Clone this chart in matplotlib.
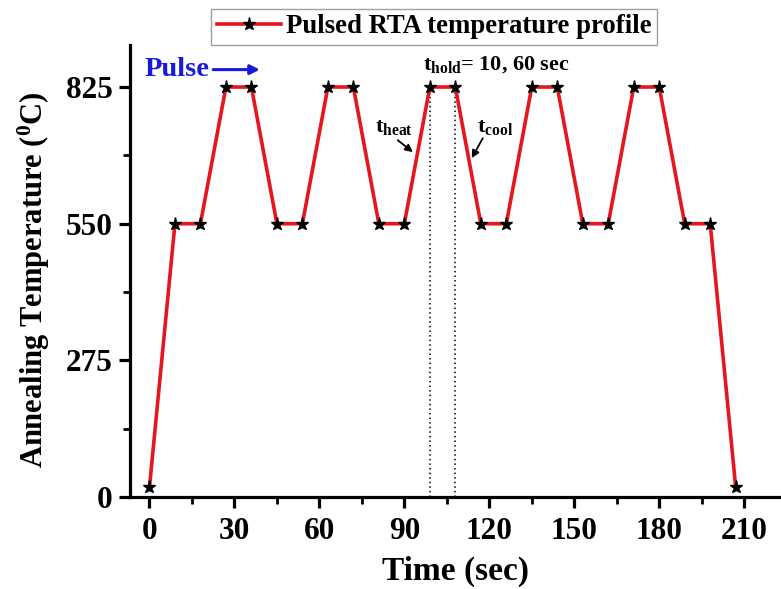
import matplotlib
matplotlib.use("Agg")
import matplotlib.pyplot as plt
from matplotlib.ticker import MultipleLocator

time_s = [0, 9, 18, 27, 36, 45, 54, 63, 72, 81, 90, 99, 108, 117, 126,
          135, 144, 153, 162, 171, 180, 189, 198, 207]
temp_c = [20, 550, 550, 825, 825, 550, 550, 825, 825, 550, 550, 825, 825, 550, 550,
          825, 825, 550, 550, 825, 825, 550, 550, 20]
x_ticks = [0, 30, 60, 90, 120, 150, 180, 210]
y_ticks = [0, 275, 550, 825]
hold_marks = [99, 108]

plt.rcParams['font.family'] = ['Liberation Serif', 'DejaVu Serif']
plt.rcParams['font.weight'] = 'bold'
plt.rcParams['mathtext.fontset'] = 'custom'
plt.rcParams['mathtext.rm'] = 'Liberation Serif:bold'
plt.rcParams['mathtext.it'] = 'Liberation Serif:bold'
plt.rcParams['mathtext.bf'] = 'Liberation Serif:bold'

fig = plt.figure(figsize=(7.81, 5.89), dpi=100)
ax = fig.add_axes([0.166, 0.156, 0.834, 0.768])

line, = ax.plot(time_s, temp_c, color='#e5161e', lw=2.6, marker='*', ms=9.5,
                mfc='black', mec='black', label='Pulsed RTA temperature profile', zorder=3)

for xv in hold_marks:
    ax.plot([xv, xv], [0, 825], color='black', ls=(0, (1, 2)), lw=1.1, zorder=2)

ax.set_xlim(-7, 223)
ax.set_ylim(0, 910)
ax.set_xticks(x_ticks)
ax.set_yticks(y_ticks)
ax.xaxis.set_minor_locator(MultipleLocator(15))
ax.yaxis.set_minor_locator(MultipleLocator(137.5))

for s in ['top', 'right']:
    ax.spines[s].set_visible(False)
for s in ['left', 'bottom']:
    ax.spines[s].set_linewidth(2.3)

ax.tick_params(axis='both', which='major', length=8, width=2.3, labelsize=22.5, direction='out')
ax.tick_params(axis='x', which='major', pad=6)
ax.tick_params(axis='y', which='major', pad=4)
ax.tick_params(axis='both', which='minor', length=5, width=2.0, direction='out')
for lab in ax.get_xticklabels() + ax.get_yticklabels():
    lab.set_fontweight('bold')

ax.set_xlabel('Time (sec)', fontsize=24, fontweight='bold', labelpad=7)
ax.set_ylabel(r'Annealing Temperature ($^{0}$C)', fontsize=22, fontweight='bold')
ax.yaxis.set_label_coords(-0.119, 0.48)

# Pulse arrow
ax.text(-1.8, 860, 'Pulse', color='#1a1adc', fontsize=20.5, fontweight='bold',
        va='center', ha='left')
ax.annotate('', xy=(39, 860), xytext=(22.5, 860),
            arrowprops=dict(arrowstyle='-|>', color='#1a1adc', lw=2.2, mutation_scale=14,
                            shrinkA=0, shrinkB=0))

ax.text(96.5, 871, r'$\mathregular{t_{hold}}$= 10, 60 sec', fontsize=16, fontweight='bold',
        ha='left', va='center')

ax.text(79.6, 744, r'$\mathregular{t_{heat}}$', fontsize=16, fontweight='bold',
        ha='left', va='center')
ax.annotate('', xy=(93.0, 694), xytext=(87.7, 718),
            arrowprops=dict(arrowstyle='-|>', color='black', lw=1.3, mutation_scale=11,
                            shrinkA=0, shrinkB=0))
ax.text(115.6, 744, r'$\mathregular{t_{cool}}$', fontsize=16, fontweight='bold',
        ha='left', va='center')
ax.annotate('', xy=(113.8, 682), xytext=(117.7, 722),
            arrowprops=dict(arrowstyle='-|>', color='black', lw=1.3, mutation_scale=11,
                            shrinkA=0, shrinkB=0))

leg = fig.legend(handles=[line], loc='upper center', bbox_to_anchor=(0.556, 0.985),
                 fontsize=19.3, frameon=True, fancybox=False, edgecolor='#888888',
                 handlelength=2.4, borderpad=0.2, handletextpad=0.2, borderaxespad=0)
leg.get_frame().set_linewidth(1.0)
for t in leg.get_texts():
    t.set_fontweight('bold')

fig.savefig('out.png', dpi=100)
